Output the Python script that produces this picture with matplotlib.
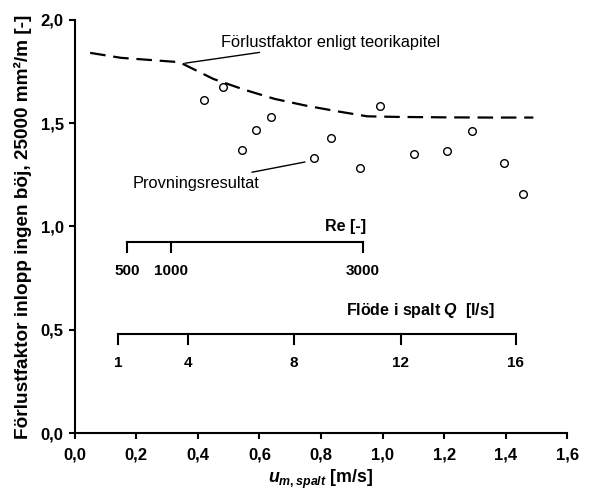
import numpy as np
import matplotlib
matplotlib.use('Agg')
import matplotlib.pyplot as plt
from matplotlib import font_manager as fm
from matplotlib.ticker import FuncFormatter

fams = sorted(set(f.name for f in fm.fontManager.ttflist if 'Liberation Sans' in f.name))
main = 'Liberation Sans' if 'Liberation Sans' in fams else 'DejaVu Sans'
plt.rcParams['font.family'] = [main, 'DejaVu Sans']
plt.rcParams['mathtext.fontset'] = 'custom'
plt.rcParams['mathtext.it'] = main + ':style=italic:weight=bold'
plt.rcParams['mathtext.rm'] = main + ':weight=bold'
plt.rcParams['mathtext.bf'] = main + ':weight=bold'

#=============================================================================
#DATA
#=============================================================================

# provningsresultat
u_test = [0.420, 0.480, 0.542, 0.588, 0.637, 0.777, 0.831, 0.928, 0.991,
          1.102, 1.208, 1.292, 1.394, 1.457]
k_test = [1.612, 1.673, 1.370, 1.466, 1.528, 1.332, 1.429, 1.283, 1.581,
          1.350, 1.364, 1.461, 1.307, 1.157]

# förlustfaktor enligt teorikapitel
u_teori = [0.05, 0.15, 0.25, 0.34, 0.45, 0.55, 0.65, 0.75, 0.85, 0.95,
           1.05, 1.20, 1.35, 1.49]
k_teori = [1.840, 1.816, 1.805, 1.795, 1.714, 1.662, 1.617, 1.585, 1.558,
           1.533, 1.530, 1.528, 1.527, 1.527]

# Re-skala (värde, position i u)
re_labels = ['500', '1000', '3000']
re_pos = [0.170, 0.311, 0.937]

# Flödesskala Q (värde, position i u)
q_labels = ['1', '4', '8', '12', '16']
q_pos = [0.141, 0.369, 0.713, 1.059, 1.433]

#=============================================================================
#PLOT
#=============================================================================

fig = plt.figure(figsize=(5.89, 4.95), dpi=100)
ax = fig.add_axes([0.127, 0.125, 0.836, 0.835])

ax.plot(u_teori, k_teori, color='black', lw=1.6, ls=(0, (7, 3.5)))
ax.plot(u_test, k_test, ls='none', marker='o', ms=5.5, mfc='white',
        mec='black', mew=1.0)

ax.set_xlim(0, 1.6)
ax.set_ylim(0, 2.0)
ax.set_xticks(np.arange(0, 1.61, 0.2))
ax.set_yticks(np.arange(0, 2.01, 0.5))
fmt = FuncFormatter(lambda v, p: ('%.1f' % v).replace('.', ','))
ax.xaxis.set_major_formatter(fmt)
ax.yaxis.set_major_formatter(fmt)
for lab in ax.get_xticklabels() + ax.get_yticklabels():
    lab.set_fontweight('bold')
ax.tick_params(direction='out', length=4, width=1.5, labelsize=12, pad=4)
ax.tick_params(axis='x', pad=6)
for s in ['top', 'right']:
    ax.spines[s].set_visible(False)
for s in ['left', 'bottom']:
    ax.spines[s].set_linewidth(1.5)

ax.set_xlabel(r'$u_{m,spalt}$ [m/s]', fontsize=12.8, fontweight='bold',
              labelpad=4)
ax.set_ylabel('Förlustfaktor inlopp ingen böj, 25000 mm²/m [-]',
              fontsize=13.7, fontweight='bold', labelpad=6)

# annoteringar
ax.annotate('Förlustfaktor enligt teorikapitel', xy=(0.358, 1.79),
            xytext=(0.475, 1.892), fontsize=11.8, va='center', ha='left',
            arrowprops=dict(arrowstyle='-', color='black', lw=1,
                            shrinkA=0, shrinkB=0))
ax.annotate('Provningsresultat', xy=(0.748, 1.312),
            xytext=(0.60, 1.21), fontsize=11.8, va='center', ha='right',
            arrowprops=dict(arrowstyle='-', color='black', lw=1,
                            shrinkA=2, shrinkB=0))

# Re-skala
y_re = 0.926
ax.plot([re_pos[0], re_pos[-1]], [y_re, y_re], color='black', lw=1.5,
        solid_capstyle='projecting')
for p, t in zip(re_pos, re_labels):
    ax.plot([p, p], [y_re, y_re - 0.05], color='black', lw=1.5)
    ax.text(p, 0.785, t, ha='center', va='center', fontsize=11,
            fontweight='bold')
ax.text(0.945, 1.0, 'Re [-]', ha='right', va='center', fontsize=11.5,
        fontweight='bold')

# Q-skala
y_q = 0.481
ax.plot([q_pos[0], q_pos[-1]], [y_q, y_q], color='black', lw=1.5,
        solid_capstyle='projecting')
for p, t in zip(q_pos, q_labels):
    ax.plot([p, p], [y_q, y_q - 0.05], color='black', lw=1.5)
    ax.text(p, 0.34, t, ha='center', va='center', fontsize=11,
            fontweight='bold')
ax.text(1.365, 0.591, r'Flöde i spalt $Q$  [l/s]', ha='right', va='center',
        fontsize=11.5, fontweight='bold')

fig.savefig('out.png', dpi=100)
